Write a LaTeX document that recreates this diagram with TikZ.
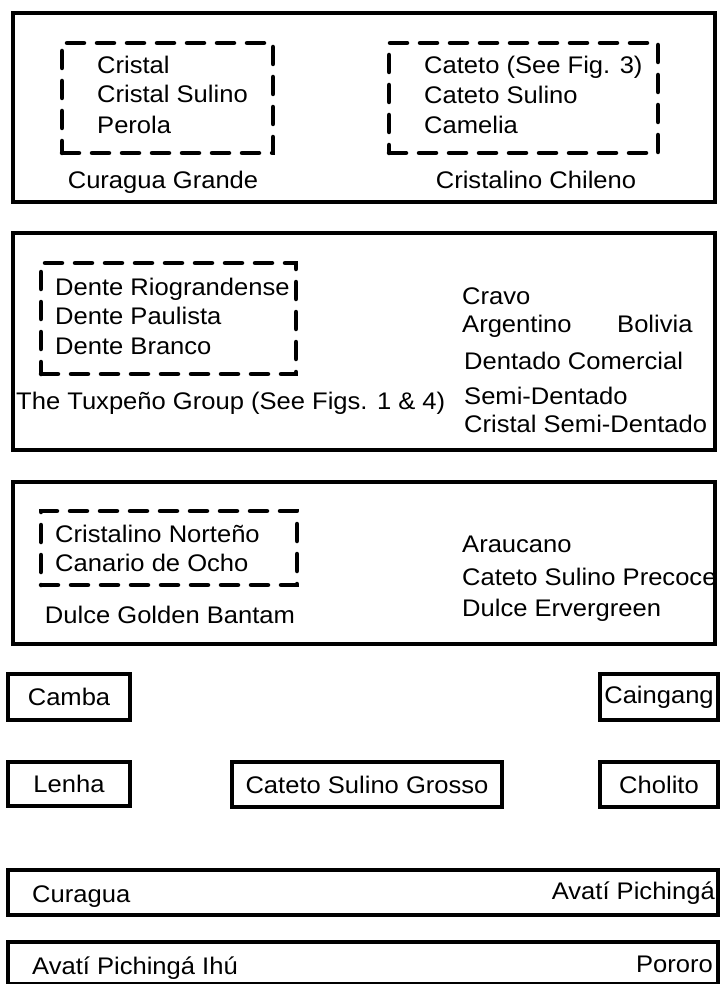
\documentclass[tikz,border=0pt]{standalone}
\usepackage{fontspec}
\setmainfont[FakeStretch=1.065]{Liberation Sans}
\begin{document}
\begin{tikzpicture}[x=1pt,y=-1pt,
  outerbox/.style={draw, line width=4.5pt, rectangle, inner sep=0pt},
  groupbox/.style={draw, line width=4.5pt, dash pattern=on 17pt off 13pt, line cap=round, rectangle, inner sep=0pt},
  lbl/.style={anchor=base west, inner sep=0pt, font=\fontsize{24}{28}\selectfont},
  lblc/.style={anchor=base, inner sep=0pt, font=\fontsize{24}{28}\selectfont},
  lblr/.style={anchor=base east, inner sep=0pt, font=\fontsize{24}{28}\selectfont},
  smallbox/.style={draw, line width=4.5pt, rectangle, inner sep=0pt, font=\fontsize{24}{28}\selectfont}]
\useasboundingbox (0,0) rectangle (720,984);
\fill[white] (0,0) rectangle (720,984);
% Box 1
\node (b1) [outerbox, minimum width=702pt, minimum height=189pt] at (364,107.5) {};
\node (d1) [groupbox, minimum width=211pt, minimum height=110pt] at (167.5,98) {};
\node (d2) [groupbox, minimum width=269pt, minimum height=110pt] at (523.5,98) {};
\node (t11) [lbl] at (97,74) {Cristal};
\node (t12) [lbl] at (97,103) {Cristal Sulino};
\node (t13) [lbl] at (97,134) {Perola};
\node (t14) [lblc] at (163,189) {Curagua Grande};
\node (t21) [lbl] at (424,74) {Cateto (See Fig. 3)};
\node (t22) [lbl] at (424,104) {Cateto Sulino};
\node (t23) [lbl] at (424,134) {Camelia};
\node (t24) [lblc] at (536,189) {Cristalino Chileno};
% Box 2
\node (b2) [outerbox, minimum width=702pt, minimum height=217pt] at (364,341.5) {};
\node (d3) [groupbox, minimum width=255pt, minimum height=111pt] at (168.5,318.5) {};
\node (t31) [lbl] at (55,295) {Dente Riograndense};
\node (t32) [lbl] at (55,324) {Dente Paulista};
\node (t33) [lbl] at (55,354) {Dente Branco};
\node (t34) [lbl] at (16,409) {The Tuxpeño Group (See Figs. 1 \& 4)};
\node (t35) [lbl] at (462,304) {Cravo};
\node (t36) [lbl] at (462,332) {Argentino};
\node (t37) [lbl] at (617,332) {Bolivia};
\node (t38) [lbl] at (464,369) {Dentado Comercial};
\node (t39) [lbl] at (464,404) {Semi-Dentado};
\node (t310) [lbl] at (464,432) {Cristal Semi-Dentado};
% Box 3
\node (b3) [outerbox, minimum width=702pt, minimum height=162pt] at (364,563) {};
\node (d4) [groupbox, minimum width=256pt, minimum height=74pt] at (169,548) {};
\node (t41) [lbl] at (55,542) {Cristalino Norteño};
\node (t42) [lbl] at (55,571) {Canario de Ocho};
\node (t43) [lblc] at (170,623) {Dulce Golden Bantam};
\node (t44) [lbl] at (462,552) {Araucano};
\node (t45) [lbl] at (462,585) {Cateto Sulino Precoce};
\node (t46) [lbl] at (462,616) {Dulce Ervergreen};
% Small boxes
\node (camba) [smallbox, minimum width=122pt, minimum height=46pt] at (69,697) {Camba};
\node (caingang) [smallbox, minimum width=118pt, minimum height=46pt] at (659,697) {Caingang};
\node (lenha) [smallbox, minimum width=122pt, minimum height=44pt] at (69,784) {Lenha};
\node (csg) [smallbox, minimum width=270pt, minimum height=45pt] at (367,784.5) {Cateto Sulino Grosso};
\node (cholito) [smallbox, minimum width=118pt, minimum height=45pt] at (659,784.5) {Cholito};
% Bars
\node (bar1) [outerbox, minimum width=710pt, minimum height=45pt] at (363,892.5) {};
\node (t51) [lbl] at (32,902) {Curagua};
\node (t52) [lblr] at (715,899) {Avatí Pichingá};
\node (bar2) [outerbox, minimum width=710pt, minimum height=42pt] at (363,963) {};
\node (t61) [lbl] at (32,974) {Avatí Pichingá Ihú};
\node (t62) [lblr] at (713,972) {Pororo};
\end{tikzpicture}
\end{document}
